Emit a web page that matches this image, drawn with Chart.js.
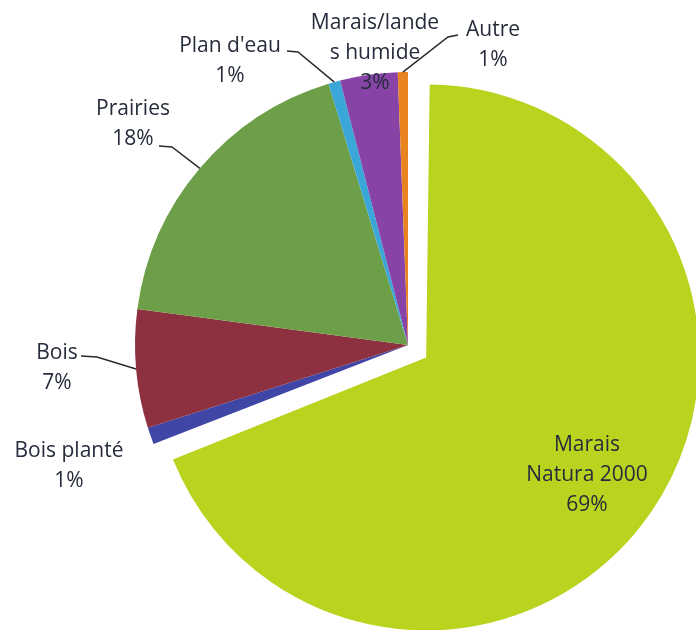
<!DOCTYPE html>
<html><head><meta charset="utf-8">
<script src="https://cdn.jsdelivr.net/npm/chart.js@4/dist/chart.umd.min.js"></script>
<style>html,body{margin:0;padding:0;background:#fff}#wrap{width:696px;height:630px;position:relative}</style>
</head><body><div id="wrap"><canvas id="c"></canvas></div>
<script>
const categories = ["Marais Natura 2000", "Bois planté", "Bois", "Prairies", "Plan d'eau", "Marais/landes humide", "Autre"];
const values = [69.1, 1.0, 7.0, 18.2, 0.7, 3.4, 0.6];
const colors = ["#bad31f", "#3f46a6", "#8d3040", "#6c9f47", "#3aa7d8", "#8744a6", "#e8831f"];
const explode = [88, 0, 0, 0, 0, 0, 0];

// label layout: centre of first text line, wrap width, optional leader start segment
const labelLayout = [
  {x: 587, y: 445, w: 130},
  {x: 69, y: 451, w: 140},
  {x: 57, y: 353, w: 80, leader: [81, 356, 97, 357]},
  {x: 133, y: 109, w: 120, leader: [159, 146, 172, 147]},
  {x: 230, y: 46, w: 140, leader: [287, 51, 298, 52]},
  {x: 375, y: 23, w: 133},
  {x: 493, y: 30, w: 80, leader: [458, 35, 448, 37]}
];

function wrapText(ctx, text, maxW) {
  const words = text.split(' ');
  const lines = []; let cur = '';
  for (let w of words) {
    while (ctx.measureText(w).width > maxW && w.length > 1) {
      let n = w.length;
      while (n > 1 && ctx.measureText(w.slice(0, n)).width > maxW) n--;
      if (cur) { lines.push(cur); cur = ''; }
      lines.push(w.slice(0, n)); w = w.slice(n);
    }
    const test = cur ? cur + ' ' + w : w;
    if (ctx.measureText(test).width <= maxW) cur = test;
    else { if (cur) lines.push(cur); cur = w; }
  }
  if (cur) lines.push(cur);
  return lines;
}

const explodeFix = {
  id: 'explodeFix',
  afterDatasetUpdate(chart) {
    const meta = chart.getDatasetMeta(0);
    meta.data.forEach((arc, i) => {
      const off = explode[i] || 0;
      if (off) arc.outerRadius = arc.outerRadius - off / 4;
    });
  }
};

const pieLabels = {
  id: 'pieLabels',
  afterDatasetsDraw(chart, args, opts) {
    const ctx = chart.ctx;
    const meta = chart.getDatasetMeta(0);
    const data = chart.data.datasets[0].data;
    const total = data.reduce((a, b) => a + b, 0);
    ctx.save();
    ctx.font = opts.font;
    ctx.textAlign = 'center';
    ctx.textBaseline = 'middle';
    meta.data.forEach((arc, i) => {
      const L = opts.layout[i];
      const pct = Math.round(data[i] / total * 100) + '%';
      const lines = wrapText(ctx, chart.data.labels[i], L.w).concat([pct]);
      ctx.fillStyle = opts.color;
      lines.forEach((t, k) => ctx.fillText(t, L.x, L.y + k * opts.lineHeight));
      if (L.leader) {
        const mid = (arc.startAngle + arc.endAngle) / 2;
        const ex = arc.x + Math.cos(mid) * arc.outerRadius;
        const ey = arc.y + Math.sin(mid) * arc.outerRadius;
        ctx.beginPath();
        ctx.moveTo(L.leader[0], L.leader[1]);
        ctx.lineTo(L.leader[2], L.leader[3]);
        ctx.lineTo(ex, ey);
        ctx.strokeStyle = opts.lineColor;
        ctx.lineWidth = 1.5;
        ctx.stroke();
      }
    });
    ctx.restore();
  }
};

new Chart(document.getElementById('c'), {
  type: 'pie',
  data: {
    labels: categories,
    datasets: [{
      data: values,
      backgroundColor: colors,
      borderWidth: 0,
      offset: explode,
      clip: false
    }]
  },
  options: {
    responsive: true,
    maintainAspectRatio: false,
    animation: false,
    radius: 273,
    layout: {padding: {left: 120, right: 0, top: 60, bottom: 0}},
    events: [],
    plugins: {
      legend: {display: false},
      tooltip: {enabled: false},
      pieLabels: {
        layout: labelLayout,
        font: "500 21px 'Open Sans'",
        color: '#262c3c',
        lineColor: '#2b2b2b',
        lineHeight: 30
      }
    }
  },
  plugins: [explodeFix, pieLabels]
});
</script>
</body></html>
